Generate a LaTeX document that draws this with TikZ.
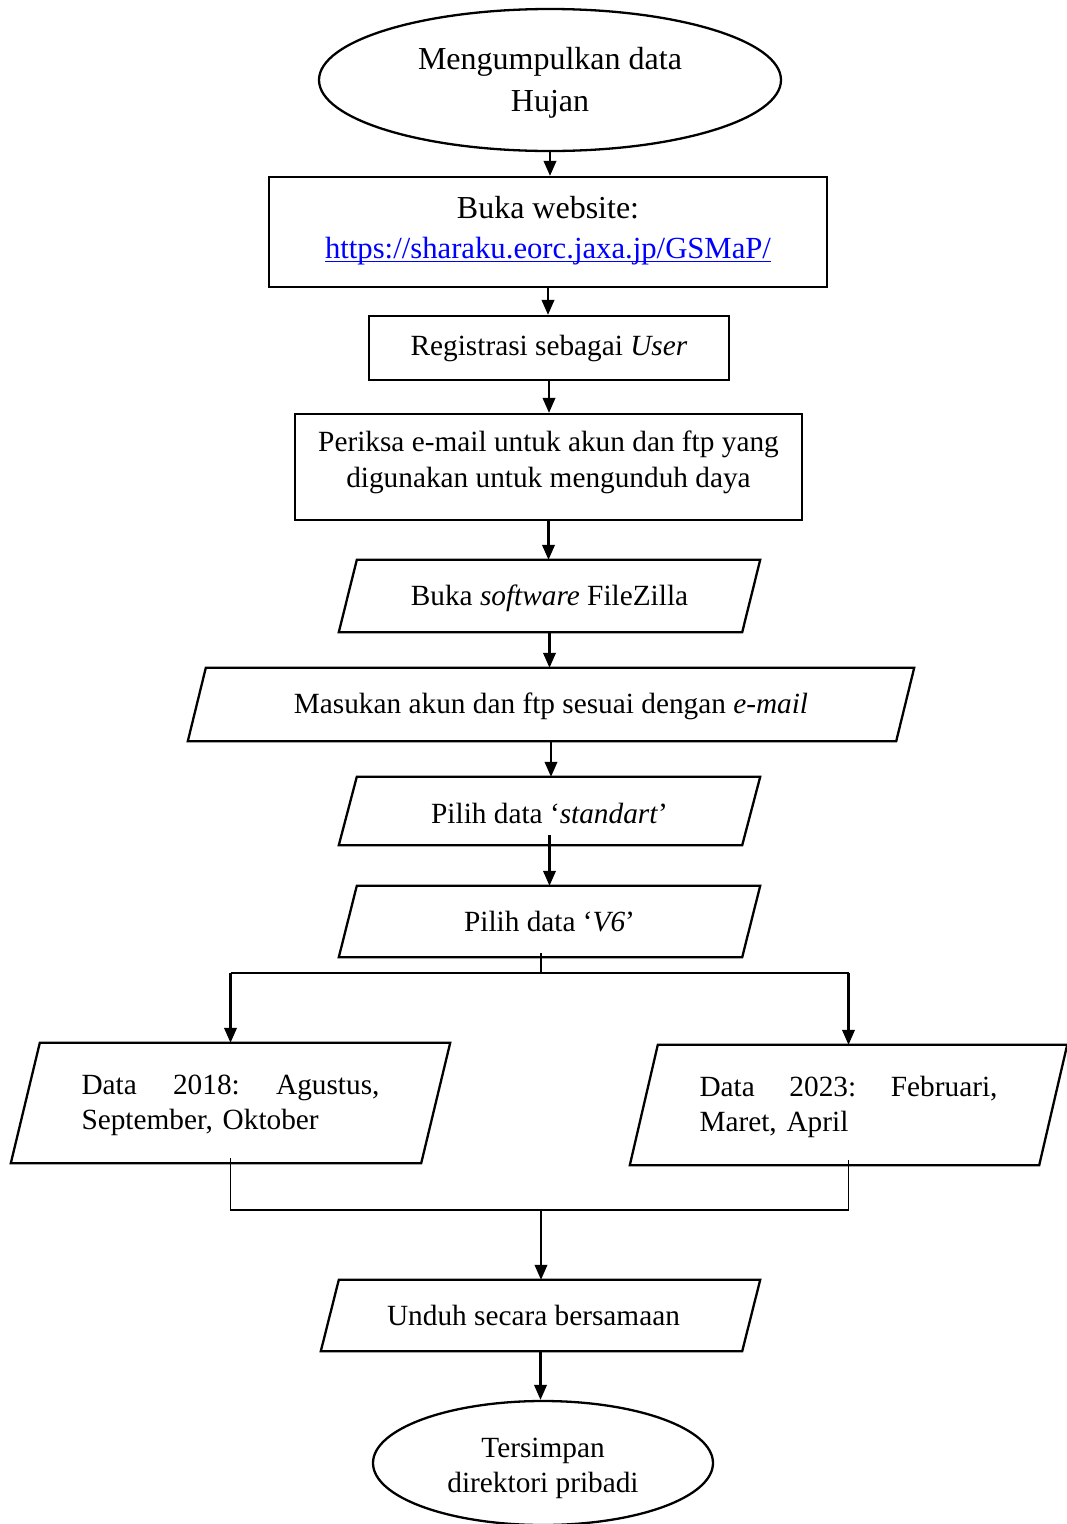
\documentclass[tikz,border=0pt]{standalone}
\usepackage{fontspec}
\setmainfont{Liberation Serif}
\usetikzlibrary{arrows.meta,calc,shapes.geometric}

% slanted outline around a parallelogram holder node: #1 node, #2 half slant
\newcommand\paraoutline[2]{%
  \draw[boxline] ($(#1.north west)+(#2,0)$) -- ($(#1.north east)+(#2,0)$)
    -- ($(#1.south east)+(-#2,0)$) -- ($(#1.south west)+(-#2,0)$) -- cycle;}

% link-style text: underline drawn close under the baseline
\newcommand\linktext[1]{\setbox0\hbox{#1}\rlap{\rule[-3.2pt]{\wd0}{1.5pt}}\box0}

\tikzset{
  boxline/.style={line width=2.3pt, line join=miter},
  flow/.style={line width=2.2pt, -{Triangle[length=15pt,width=12.5pt]}},
  joinline/.style={line width=1.4pt},
  txt/.style={font=\fontsize{29.3}{36}\selectfont\frenchspacing, align=center, inner sep=0pt},
  rectbox/.style={txt, draw, line width=2.3pt, rectangle},
  ovalbox/.style={txt, draw, line width=2.3pt, ellipse},
  slab/.style={txt, rectangle},
}

\begin{document}
\begin{tikzpicture}[x=1pt, y=-1pt]
\useasboundingbox (0,0) rectangle (1067,1524);

% start
\node[ovalbox, minimum width=462pt, minimum height=142pt] (e1) at (550,80) {};
\node[txt, font=\fontsize{32}{42}\selectfont] (e1t) at ($(e1.center)+(0,3)$)
  {Mengumpulkan data\\Hujan};

% process boxes
\node[rectbox, minimum width=558pt, minimum height=110pt] (r1) at (548,232) {};
\node[txt, font=\fontsize{32}{40}\selectfont] (r1t) at ($(r1.center)+(0,-1)$)
  {Buka website:\\\fontsize{30.7}{40}\selectfont\textcolor{blue}{\linktext{https://sharaku.eorc.jaxa.jp/GSMaP/}}};
\node[rectbox, minimum width=360pt, minimum height=64pt] (r2) at (549,348)
  {Registrasi sebagai \textit{User}};
\node[rectbox, minimum width=507pt, minimum height=106pt] (r3) at (548.5,467) {};
\node[txt] (r3t) at ($(r3.center)+(0,-5)$)
  {Periksa e-mail untuk akun dan ftp yang\\digunakan untuk mengunduh daya};

% input/output steps
\node[slab, minimum width=403pt, minimum height=72pt] (p1) at (549.5,596) {};
\node[txt] (p1t) at ($(p1.center)+(0,2)$) {Buka \textit{software} FileZilla};
\paraoutline{p1}{9}
\node[slab, minimum width=708pt, minimum height=73pt] (p2) at (551,704.5) {};
\node[txt] (p2t) at ($(p2.center)+(0,2)$) {Masukan akun dan ftp sesuai dengan \textit{e-mail}};
\paraoutline{p2}{9}
\node[slab, minimum width=403pt, minimum height=68pt] (p3) at (549.5,811) {};
\node[txt] (p3t) at ($(p3.center)+(0,2)$) {Pilih data ‘\textit{standart}’};
\paraoutline{p3}{9}
\node[slab, minimum width=403pt, minimum height=71pt] (p4) at (549.5,921.5)
  {Pilih data ‘\textit{V6}’};
\paraoutline{p4}{9}

\node[slab, minimum width=410pt, minimum height=120pt] (pL) at (230.5,1103) {};
\node[txt, text width=298pt, align=left, font=\fontsize{29.3}{35}\selectfont\frenchspacing]
  (pLt) at ($(pL.center)+(0,2)$)
  {Data\hfill 2018:\hfill Agustus,\\\mbox{September, Oktober}};
\paraoutline{pL}{14.5}
\node[slab, minimum width=409pt, minimum height=120pt] (pR) at (848.5,1105) {};
\node[txt, text width=298pt, align=left, font=\fontsize{29.3}{35}\selectfont\frenchspacing]
  (pRt) at ($(pR.center)+(0,2)$)
  {Data\hfill 2023:\hfill Februari,\\\mbox{Maret, April}};
\paraoutline{pR}{14}

\node[slab, minimum width=421pt, minimum height=71pt] (p5) at (540.5,1315.5) {};
\node[txt] (p5t) at ($(p5.center)+(-7,0)$) {Unduh secara bersamaan};
\paraoutline{p5}{9}

% end
\node[ovalbox, minimum width=340pt, minimum height=124pt] (e2) at (543,1463) {};
\node[txt, font=\fontsize{29.3}{35}\selectfont] (e2t) at ($(e2.center)+(0,5)$)
  {Tersimpan\\direktori pribadi};

% main flow
\draw[flow] (e1.south) -- (e1.south |- r1.north);
\draw[flow] (r1.south) -- (r1.south |- r2.north);
\draw[flow] (r2.south) -- (r2.south |- r3.north);
\draw[flow] (r3.south) -- (r3.south |- p1.north);
\draw[flow] (p1.south) -- (p1.south |- p2.north);
\draw[flow] (p2.south) -- (p2.south |- p3.north);
\draw[flow] ($(p3.south)+(0,-10)$) -- (p4.north);

% split into the two periods
\coordinate (split) at (541,973);
\draw[joinline] ($(split |- p4.south)+(0,-4)$) -- (split);
\draw[joinline] (split -| pL.north) -- (split -| pR.north);
\draw[flow] (split -| pL.north) -- (pL.north);
\draw[flow] (split -| pR.north) -- (pR.north);

% merge back
\coordinate (merge) at (541,1210);
\draw[joinline] ($(pL.south)+(0,-5)$) -- (merge -| pL.south) -- (merge -| pR.south)
  -- ($(pR.south)+(0,-5)$);
\draw[flow] (merge) -- (merge |- p5.north);
\draw[flow] (p5.south) -- (p5.south |- e2.north);
\end{tikzpicture}
\end{document}
